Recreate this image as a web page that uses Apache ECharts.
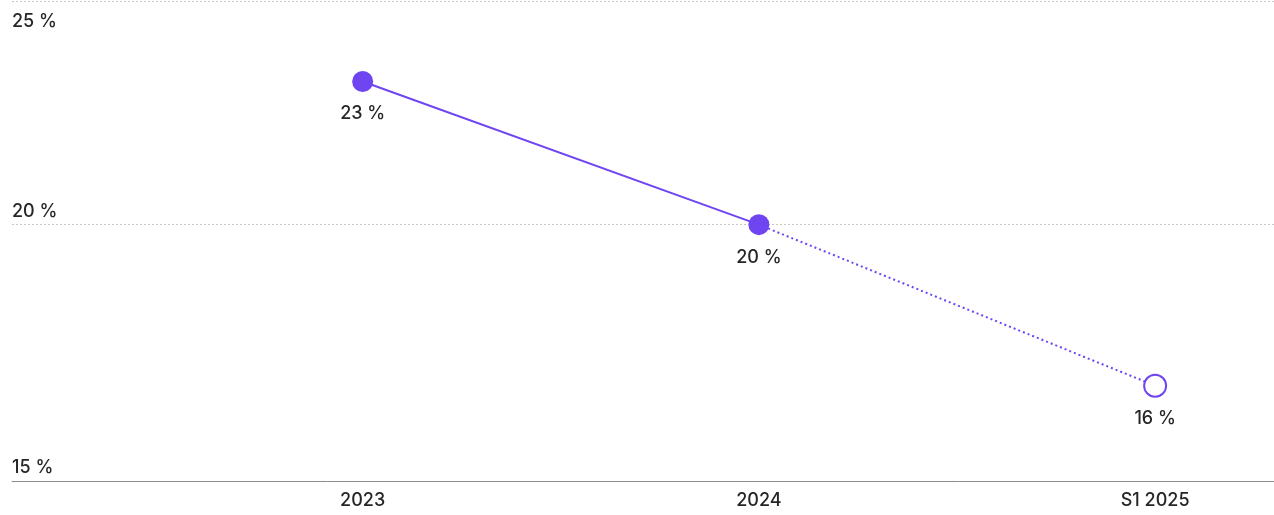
<!DOCTYPE html>
<html>
<head>
<meta charset="utf-8">
<script src="https://cdn.jsdelivr.net/npm/echarts@6/dist/echarts.min.js"></script>
<style>
  html, body { margin: 0; padding: 0; background: #fff; }
  #chart { width: 1274px; height: 515px; }
</style>
</head>
<body>
<div id="chart"></div>
<script>
var categories = ['2023', '2024', 'S1 2025'];
var rateValues = [23.2, 20, 16.4];
var yTickValues = [20, 25];
var yLabelLow = 15;

var purple = '#6f45f2';
var textColor = '#262626';
var font = 'Inter';

// solid part 2023 -> 2024, dotted part 2024 -> S1 2025
var solidData = [];
var dottedData = [];
for (var i = 0; i < categories.length; i++) {
  if (i <= 1) solidData.push([i, rateValues[i]]);
  if (i >= 1) dottedData.push([i, rateValues[i]]);
}

var yMin = 14.27;
var yMax = 25;

var chart = echarts.init(document.getElementById('chart'));

var option = {
  animation: false,
  grid: { left: 12, right: 0, top: 1, bottom: 34 },
  xAxis: {
    type: 'value',
    min: -0.885,
    max: 2.3,
    splitLine: { show: false },
    axisTick: { show: false },
    axisLine: { show: true, onZero: false, lineStyle: { color: '#8c8c8c', width: 1 } },
    axisLabel: {
      customValues: [0, 1, 2],
      margin: 11,
      color: textColor,
      fontFamily: font,
      fontWeight: 500,
      fontSize: 18,
      formatter: function(v) { return categories[Math.round(v)]; }
    }
  },
  yAxis: [{
    type: 'value',
    min: yMin,
    max: yMax,
    axisLine: { show: false },
    axisTick: { show: false, customValues: yTickValues },
    splitLine: {
      show: true,
      customValues: yTickValues,
      lineStyle: { color: '#c8c8c8', type: [2, 2], width: 1 }
    },
    axisLabel: {
      inside: true,
      margin: 0,
      customValues: [yMin, 20],
      verticalAlign: 'bottom',
      padding: [0, 0, 4, 0],
      color: textColor,
      fontFamily: font,
      fontWeight: 500,
      fontSize: 18,
      formatter: function(v) { return (v === yMin ? yLabelLow : v) + ' %'; }
    }
  }, {
    type: 'value',
    position: 'left',
    min: yMin,
    max: yMax,
    axisLine: { show: false },
    axisTick: { show: false },
    splitLine: { show: false },
    axisLabel: {
      inside: true,
      margin: 0,
      customValues: [25],
      verticalAlign: 'top',
      padding: [12, 0, 0, 0],
      color: textColor,
      fontFamily: font,
      fontWeight: 500,
      fontSize: 18,
      formatter: function(v) { return v + ' %'; }
    }
  }],
  series: [{
    type: 'line',
    data: solidData,
    symbol: 'circle',
    symbolSize: 21,
    lineStyle: { color: purple, width: 2 },
    itemStyle: { color: purple },
    label: {
      show: true,
      position: 'bottom',
      distance: 13,
      color: textColor,
      fontFamily: font,
      fontWeight: 500,
      fontSize: 18,
      formatter: function(p) {
        return Math.round(p.value[1]) + ' %';
      }
    },
    z: 3
  }, {
    type: 'line',
    data: dottedData,
    symbol: 'circle',
    symbolSize: function(v, p) { return p.dataIndex === 0 ? 0 : 22; },
    lineStyle: { color: purple, width: 2, type: [2, 3] },
    itemStyle: { color: '#fff', borderColor: purple, borderWidth: 2 },
    label: {
      show: true,
      position: 'bottom',
      distance: 12,
      color: textColor,
      fontFamily: font,
      fontWeight: 500,
      fontSize: 18,
      formatter: function(p) {
        return p.dataIndex === 0 ? '' : Math.round(p.value[1]) + ' %';
      }
    },
    z: 2
  }]
};

chart.setOption(option);
</script>
</body>
</html>
